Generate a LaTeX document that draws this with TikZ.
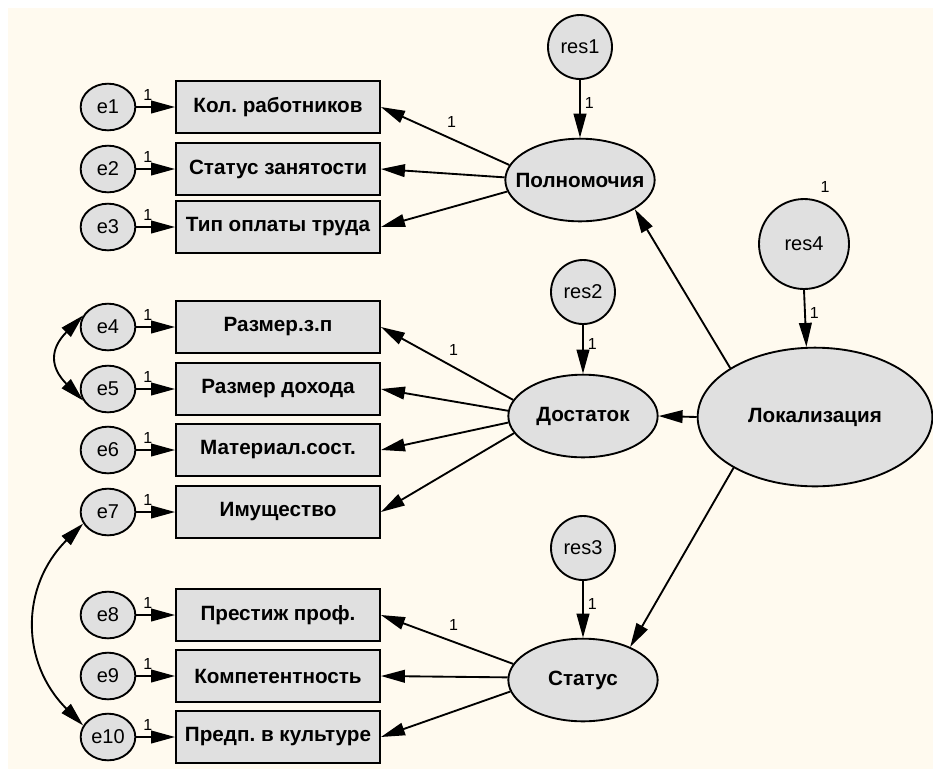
\documentclass[tikz,border=0pt]{standalone}
\usepackage{fontspec}
\setmainfont{Liberation Sans}
\frenchspacing
\usetikzlibrary{shapes.geometric, arrows.meta, positioning}
\definecolor{bgcream}{RGB}{255,250,239}
\definecolor{nodegray}{RGB}{224,224,224}
\newcommand{\ztxt}[1]{\makebox[0pt]{#1}}
\tikzstyle{observed} = [rectangle, minimum width=153pt, minimum height=39pt, text centered, draw=black, line width=1.4pt, fill=nodegray, font=\fontsize{15.5}{18}\selectfont\bfseries]
\tikzstyle{latent} = [ellipse, minimum width=112pt, minimum height=62pt, inner sep=0pt, draw=black, line width=1.4pt, fill=nodegray, font=\fontsize{15.5}{18}\selectfont\bfseries]
\tikzstyle{errvar} = [ellipse, minimum width=41pt, minimum height=35pt, inner sep=1pt, draw=black, line width=1.4pt, fill=nodegray, font=\fontsize{15}{17}\selectfont]
\tikzstyle{resid} = [circle, minimum size=48pt, inner sep=1pt, draw=black, line width=1.4pt, fill=nodegray, font=\fontsize{15}{17}\selectfont]
\tikzstyle{lbl} = [inner sep=1pt, font=\fontsize{12}{14}\selectfont]
\tikzstyle{arrow} = [line width=1.4pt, -{Triangle[length=18pt, width=9.5pt]}]
\tikzstyle{covar} = [line width=1.4pt, {Triangle[length=18pt, width=9.5pt]}-{Triangle[length=18pt, width=9.5pt]}]

\begin{document}
\begin{tikzpicture}[x=0.75pt, y=0.75pt]
\useasboundingbox (0,0) rectangle (933,-769);
\fill [bgcream] (8,-8) rectangle (933,-769);

% Латентные переменные
\node (pol)  [latent] at (580,-180) {\ztxt{Полномочия}};
\node (dost) [latent] at (583,-416) {\ztxt{Достаток}};
\node (stat) [latent] at (583,-680) {\ztxt{Статус}};
\node (loc)  [latent, minimum width=176pt, minimum height=104pt] at (815,-417) {\ztxt{Локализация}};

\node (res1) [resid, above of=pol, node distance=99.75pt] {res1};
\node (res2) [resid, above of=dost, node distance=93pt] {res2};
\node (res3) [resid, above of=stat, node distance=99pt] {res3};
\node (res4) [resid, minimum size=67.5pt] at (804,-244) {res4};
\node (res4v) [lbl] at (825,-187) {1};

% Наблюдаемые переменные
\node (k1)  [observed] at (278,-107) {Кол. работников};
\node (k2)  [observed] at (278,-169) {Статус занятости};
\node (k3)  [observed] at (278,-227) {Тип оплаты труда};
\node (k4)  [observed] at (278,-327) {Размер.з.п};
\node (k5)  [observed] at (278,-389) {Размер дохода};
\node (k6)  [observed] at (278,-450) {Материал.сост.};
\node (k7)  [observed] at (278,-512) {Имущество};
\node (k8)  [observed] at (278,-615) {Престиж проф.};
\node (k9)  [observed] at (278,-676) {Компетентность};
\node (k10) [observed] at (278,-737) {Предп. в культуре};

\node (e1)  [errvar, left of=k1, node distance=127.5pt] {e1};
\node (e2)  [errvar, left of=k2, node distance=127.5pt] {e2};
\node (e3)  [errvar, left of=k3, node distance=127.5pt] {e3};
\node (e4)  [errvar, left of=k4, node distance=127.5pt] {e4};
\node (e5)  [errvar, left of=k5, node distance=127.5pt] {e5};
\node (e6)  [errvar, left of=k6, node distance=127.5pt] {e6};
\node (e7)  [errvar, left of=k7, node distance=127.5pt] {e7};
\node (e8)  [errvar, left of=k8, node distance=127.5pt] {e8};
\node (e9)  [errvar, left of=k9, node distance=127.5pt] {e9};
\node (e10) [errvar, left of=k10, node distance=127.5pt] {e10};

% Ошибки -> индикаторы
\draw [arrow] (e1) -- node[lbl, pos=0.3, above=3pt] {1} (k1);
\draw [arrow] (e2) -- node[lbl, pos=0.3, above=3pt] {1} (k2);
\draw [arrow] (e3) -- node[lbl, pos=0.3, above=3pt] {1} (k3);
\draw [arrow] (e4) -- node[lbl, pos=0.3, above=3pt] {1} (k4);
\draw [arrow] (e5) -- node[lbl, pos=0.3, above=3pt] {1} (k5);
\draw [arrow] (e6) -- node[lbl, pos=0.3, above=3pt] {1} (k6);
\draw [arrow] (e7) -- node[lbl, pos=0.3, above=3pt] {1} (k7);
\draw [arrow] (e8) -- node[lbl, pos=0.3, above=3pt] {1} (k8);
\draw [arrow] (e9) -- node[lbl, pos=0.3, above=3pt] {1} (k9);
\draw [arrow] (e10) -- node[lbl, pos=0.3, above=3pt] {1} (k10);

% Ковариации ошибок
\draw [covar] (e4.155) to[out=225, in=135, looseness=1.42] (e5.205);
\draw [covar] (e7.205) to[out=225, in=135, looseness=1.13] (e10.155);

% Факторы -> индикаторы
\draw [arrow] (pol.168) -- node[lbl, pos=0.45, above=7pt] {1} (k1.east);
\draw [arrow] (pol.178) -- (k2.east);
\draw [arrow] (pol.189) -- (k3.east);

\draw [arrow] (dost.167) -- node[lbl, pos=0.45, above=7pt] {1} (k4.east);
\draw [arrow] (dost.176) -- (k5.east);
\draw [arrow] (dost.185) -- (k6.east);
\draw [arrow] (dost.194) -- (k7.east);

\draw [arrow] (stat.167) -- node[lbl, pos=0.45, above=7pt] {1} (k8.east);
\draw [arrow] (stat.178) -- (k9.east);
\draw [arrow] (stat.189) -- (k10.east);

% Остатки -> факторы
\draw [arrow] (res1) -- node[lbl, pos=0.4, right=2pt] {1} (pol);
\draw [arrow] (res2) -- node[lbl, pos=0.4, right=2pt] {1} (dost);
\draw [arrow] (res3) -- node[lbl, pos=0.4, right=2pt] {1} (stat);
\draw [arrow] (res4.south) -- node[lbl, pos=0.4, right=2pt] {1} (loc.97);

% Локализация -> факторы
\draw [arrow] (loc.150) -- (pol.-28);
\draw [arrow] (loc.west) -- (dost.east);
\draw [arrow] (loc.212) -- (stat.35);

\end{tikzpicture}
\end{document}
